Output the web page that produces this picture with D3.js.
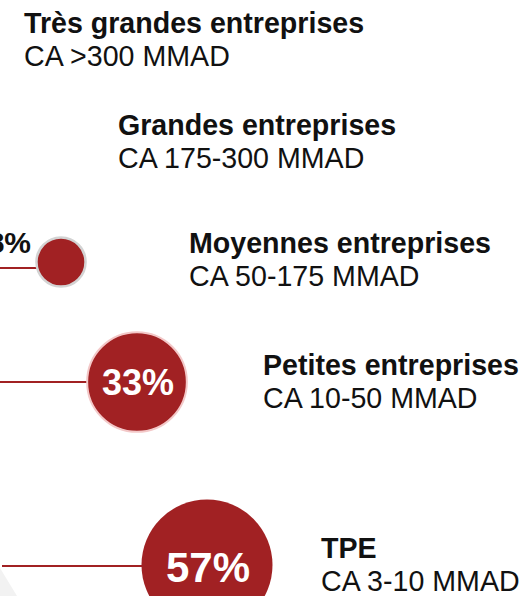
<!DOCTYPE html>
<html>
<head>
<meta charset="utf-8">
<script src="https://cdn.jsdelivr.net/npm/d3@7"></script>
<style>
  body { margin: 0; background: #fff; }
  svg { display: block; font-family: "Liberation Sans", Arial, Helvetica, sans-serif; }
</style>
</head>
<body>
<div id="chart"></div>
<script>
'use strict'

// data
const categories = ["Très grandes entreprises", "Grandes entreprises", "Moyennes entreprises", "Petites entreprises", "TPE"];
const ranges = ["CA >300 MMAD", "CA 175-300 MMAD", "CA 50-175 MMAD", "CA 10-50 MMAD", "CA 3-10 MMAD"];
const shares = [null, null, 8, 33, 57]; // % - first two bubbles fall outside the frame

// layout (per level)
const labelX = [24, 118, 189, 263, 321];
const labelY = [33, 135, 253, 375, 558];
const bubbleX = [null, null, 61, 137, 207];
const bubbleY = [null, null, 262, 382, 565];
const lineY = [null, null, 268, 382, 566];

const width = 526;
const height = 596;
const red = "#a12123";

const svg = d3.select("#chart")
    .append("svg")
    .attr("width", width)
    .attr("height", height);

// light grey shape in the bottom left corner
svg.append("path")
    .attr("d", "M0,568 L17,596 L0,596 Z")
    .attr("fill", "#f2f2f2");

const r = d3.scaleSqrt()
    .domain([0, 57])
    .range([0, 65.5]);

const data = categories.map((c, i) => ({
    category: c,
    range: ranges[i],
    share: shares[i],
    i: i
}));

// labels
const labels = svg.selectAll(".label")
    .data(data)
    .enter().append("g")
    .attr("class", "label")
    .attr("transform", d => `translate(${labelX[d.i]},${labelY[d.i]})`);

labels.append("text")
    .attr("font-size", "28.6px")
    .attr("font-weight", "bold")
    .attr("fill", "#111")
    .text(d => d.category);

labels.append("text")
    .attr("y", 33)
    .attr("font-size", "28.6px")
    .attr("fill", "#111")
    .text(d => d.range);

const bubbles = data.filter(d => d.share != null);

// leader lines
svg.selectAll(".leader")
    .data(bubbles)
    .enter().append("line")
    .attr("class", "leader")
    .attr("x1", d => d.share > 50 ? 2 : 0)
    .attr("x2", d => bubbleX[d.i] - r(d.share) + 1)
    .attr("y1", d => lineY[d.i])
    .attr("y2", d => lineY[d.i])
    .attr("stroke", red)
    .attr("stroke-width", 2.2);

// bubbles
svg.selectAll(".bubble")
    .data(bubbles)
    .enter().append("circle")
    .attr("class", "bubble")
    .attr("cx", d => bubbleX[d.i])
    .attr("cy", d => bubbleY[d.i])
    .attr("r", d => r(d.share))
    .attr("fill", red)
    .attr("stroke", d => d.share < 10 ? "#d3d3d3" : (d.share < 50 ? "#f3c8c8" : "none"))
    .attr("stroke-width", d => d.share < 10 ? 2.5 : 2);

// share labels: inside when the bubble is big enough, otherwise to its left
svg.selectAll(".share")
    .data(bubbles)
    .enter().append("text")
    .attr("class", "share")
    .attr("x", d => d.share < 10 ? 31 : bubbleX[d.i] + 1)
    .attr("y", d => d.share < 10 ? 253 : bubbleY[d.i] + (d.share > 50 ? 17 : 13))
    .attr("text-anchor", d => d.share < 10 ? "end" : "middle")
    .attr("font-weight", "bold")
    .attr("font-size", d => d.share < 10 ? "30px" : (d.share > 50 ? "42px" : "36px"))
    .attr("fill", d => d.share < 10 ? "#111" : "#fff")
    .text(d => d.share + "%");
</script>
</body>
</html>
